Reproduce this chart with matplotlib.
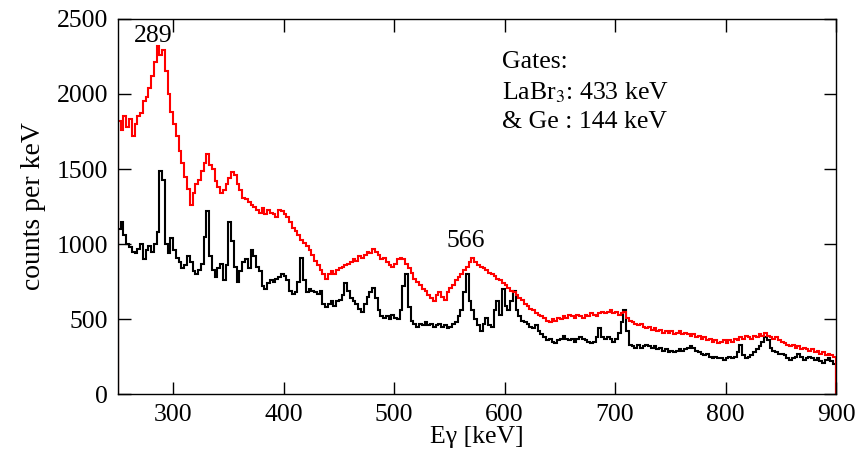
import numpy as np
import matplotlib
matplotlib.use('Agg')
import matplotlib.pyplot as plt

plt.rcParams['font.family'] = ['Liberation Serif', 'DejaVu Serif']
plt.rcParams['mathtext.fontset'] = 'stix'

# spectra in 2.5 keV bins, 250 - 900 keV
e_lo, e_hi, e_bin = 250, 900, 2.5

red = [
    1820, 1760, 1850, 1780, 1830, 1720, 1800, 1850, 1870, 1950, 1980, 2040, 2120, 2210, 2320, 2260, 2290, 2150, 2000, 1880,
    1800, 1720, 1620, 1540, 1450, 1370, 1260, 1340, 1400, 1430, 1490, 1540, 1600, 1530, 1500, 1420, 1380, 1340, 1360, 1400,
    1440, 1480, 1460, 1400, 1360, 1310, 1300, 1280, 1260, 1250, 1230, 1210, 1240, 1200, 1230, 1210, 1200, 1180, 1230, 1220,
    1200, 1180, 1150, 1110, 1090, 1060, 1030, 1010, 990, 960, 930, 890, 860, 830, 800, 770, 800, 820, 800, 830,
    840, 850, 860, 870, 880, 900, 890, 920, 910, 930, 950, 940, 970, 950, 930, 900, 910, 880, 860, 850,
    870, 900, 910, 900, 870, 840, 810, 770, 750, 730, 700, 690, 660, 640, 620, 660, 680, 650, 630, 680,
    710, 730, 760, 780, 800, 830, 850, 880, 910, 880, 860, 850, 840, 830, 810, 800, 790, 770, 760, 740,
    730, 710, 690, 680, 660, 640, 630, 600, 590, 570, 560, 540, 530, 520, 510, 490, 480, 500, 490, 510,
    500, 520, 510, 530, 520, 510, 530, 520, 510, 530, 520, 540, 530, 520, 540, 550, 540, 550, 560, 540,
    550, 530, 540, 550, 510, 490, 480, 470, 460, 470, 450, 440, 450, 430, 440, 420, 430, 410, 420, 410,
    420, 400, 410, 420, 400, 410, 400, 390, 400, 380, 390, 370, 380, 360, 370, 350, 360, 340, 350, 360,
    340, 360, 350, 370, 360, 380, 370, 390, 380, 370, 390, 380, 400, 390, 410, 390, 380, 370, 380, 360,
    350, 340, 330, 320, 330, 310, 320, 300, 310, 300, 290, 300, 280, 290, 270, 280, 260, 270, 260, 250,
]

black = [
    1100, 1150, 1060, 1000, 980, 950, 940, 970, 1000, 900, 960, 990, 950, 1000, 1080, 1490, 1430, 1000, 940, 1040,
    960, 910, 880, 840, 860, 920, 880, 820, 800, 830, 870, 1050, 1220, 920, 830, 780, 840, 870, 760, 860,
    1150, 1020, 850, 750, 820, 880, 900, 840, 960, 920, 850, 820, 720, 700, 740, 760, 750, 770, 780, 800,
    790, 760, 690, 670, 680, 750, 910, 760, 680, 700, 690, 680, 670, 690, 600, 580, 600, 620, 590, 620,
    630, 660, 740, 690, 640, 620, 600, 570, 550, 600, 650, 680, 710, 640, 560, 520, 510, 520, 500, 530,
    510, 500, 560, 720, 800, 580, 490, 470, 450, 470, 460, 480, 460, 470, 450, 460, 470, 450, 460, 440,
    450, 470, 480, 520, 560, 680, 800, 620, 560, 500, 460, 420, 470, 510, 460, 450, 560, 620, 530, 700,
    590, 560, 620, 690, 560, 520, 490, 480, 470, 450, 440, 460, 420, 400, 380, 360, 370, 350, 340, 360,
    370, 390, 370, 360, 370, 350, 370, 380, 370, 360, 350, 340, 350, 380, 440, 380, 370, 380, 370, 350,
    370, 410, 480, 560, 420, 330, 320, 310, 330, 310, 320, 330, 320, 310, 320, 300, 310, 290, 300, 280,
    290, 280, 290, 300, 290, 300, 310, 320, 310, 290, 280, 270, 260, 270, 250, 240, 250, 240, 240, 230,
    240, 250, 240, 250, 280, 330, 260, 240, 250, 260, 280, 300, 320, 350, 380, 360, 310, 290, 280, 270,
    270, 260, 240, 230, 240, 250, 270, 250, 230, 240, 250, 240, 230, 240, 220, 210, 230, 240, 220, 200,
]

edges = np.arange(e_lo, e_hi + e_bin / 2, e_bin)

fs = 18.5

fig = plt.figure(figsize=(8.63, 4.61), dpi=100)
ax = fig.add_axes([0.1367, 0.1453, 0.8320, 0.8135])

ax.stairs(black, edges, color='black', lw=1.5)
ax.stairs(red, edges, color='red', lw=1.5)

ax.set_xlim(250, 900)
ax.set_ylim(0, 2500)
ax.set_xticks(np.arange(300, 901, 100))
ax.set_yticks(np.arange(0, 2501, 500))
ax.tick_params(direction='in', length=9, width=1, top=True, right=True, labelsize=fs, pad=7)
for s in ax.spines.values():
    s.set_linewidth(1)

ax.set_xlabel('E\u03b3 [keV]', fontsize=fs, labelpad=0)
ax.set_ylabel('counts per keV', fontsize=20, labelpad=8)

ax.text(282, 2385, '289', fontsize=fs, ha='center', va='center')
ax.text(565, 1020, '566', fontsize=fs, ha='center', va='center')
ax.text(598, 2210, 'Gates:', fontsize=fs, va='center')
ax.text(598, 2010, 'LaBr$_3$: 433 keV', fontsize=fs, va='center')
ax.text(598, 1810, '& Ge : 144 keV', fontsize=fs, va='center')

fig.savefig('out.png', dpi=100)
